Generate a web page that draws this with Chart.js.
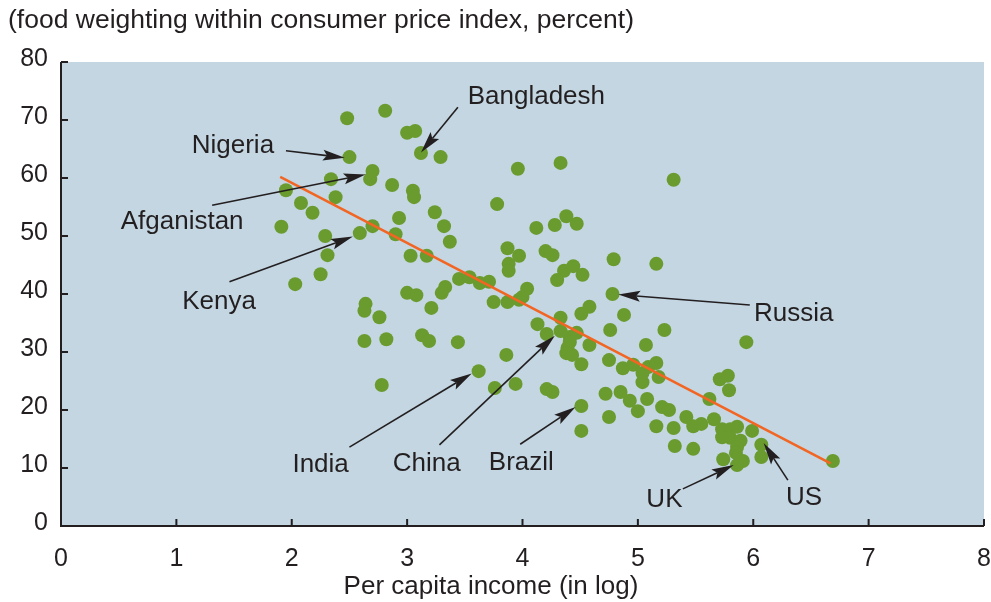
<!DOCTYPE html>
<html lang="en">
<head>
    <meta charset="UTF-8">
    <title>Food weighting vs per capita income</title>
    <style>
        html, body { margin: 0; padding: 0; background: #fff; }
        #wrap { width: 991px; height: 602px; }
    </style>
</head>
<body>
    <div id="wrap"><canvas id="foodChart" width="991" height="602"></canvas></div>

    <script src="https://cdn.jsdelivr.net/npm/chart.js"></script>
    <script>
        // per capita income (log) and food weight in CPI (%), one entry per country
        const incomeLog = [
            2.48, 2.81, 3.00, 3.07, 2.50, 3.12, 3.29, 3.78, 2.70, 2.68,
            2.34, 2.87, 3.05, 3.06, 1.95, 2.38, 2.08, 2.18, 1.91, 2.29,
            2.31, 2.25, 2.03, 2.59, 2.70, 2.93, 2.90, 3.24, 3.32, 3.37,
            3.03, 3.17, 3.45, 3.54, 3.63, 3.71, 3.33, 3.30, 3.00, 3.08,
            2.64, 2.63, 2.76, 3.21, 3.75, 3.87, 3.97, 4.00, 4.04, 2.63,
            2.82, 3.13, 3.19, 3.44, 3.86, 3.62, 3.76, 3.94, 2.78, 3.96,
            4.33, 5.31, 4.12, 4.28, 4.38, 4.47, 3.87, 3.97, 3.88, 3.88,
            4.20, 4.26, 4.44, 4.36, 4.30, 4.52, 4.79, 5.16, 4.78, 4.88,
            5.23, 4.76, 4.58, 4.51, 4.13, 4.33, 4.33, 4.21, 4.41, 4.47,
            4.41, 4.39, 4.38, 4.43, 4.58, 4.51, 5.07, 4.75, 4.87, 4.96,
            5.04, 5.09, 5.16, 5.04, 5.18, 4.21, 4.26, 4.51, 4.51, 4.72,
            4.85, 4.93, 5.00, 5.08, 4.75, 5.21, 5.27, 5.16, 5.31, 5.32,
            5.48, 5.42, 5.48, 5.94, 5.71, 5.78, 5.79, 5.62, 5.55, 5.66,
            5.73, 5.80, 5.86, 5.99, 5.73, 5.80, 5.89, 5.86, 5.85, 5.91,
            5.86, 5.74, 6.07, 6.07, 6.69
        ];
        const foodShare = [
            70.3, 71.6, 67.8, 68.1, 63.6, 64.3, 63.6, 55.5, 61.2, 59.8,
            59.8, 58.8, 57.8, 56.7, 57.9, 56.7, 55.7, 54.0, 51.6, 50.0,
            46.7, 43.4, 41.7, 50.5, 51.7, 53.1, 50.3, 54.1, 51.7, 49.0,
            46.6, 46.6, 42.6, 42.9, 41.9, 42.1, 41.2, 40.2, 40.2, 39.8,
            38.3, 37.1, 36.0, 37.6, 38.6, 38.6, 39.0, 39.5, 40.9, 31.9,
            32.2, 32.9, 31.9, 31.7, 29.5, 26.7, 23.8, 24.5, 24.3, 61.6,
            62.6, 59.7, 51.4, 51.9, 53.4, 52.1, 47.9, 46.6, 45.2, 44.0,
            47.4, 46.7, 44.8, 44.0, 42.4, 43.3, 46.0, 45.2, 40.0, 36.4,
            33.8, 33.8, 37.8, 36.6, 34.8, 35.9, 33.6, 33.1, 32.6, 33.3,
            31.7, 30.7, 29.8, 29.5, 31.2, 27.9, 31.2, 28.6, 27.2, 27.8,
            26.4, 27.4, 28.1, 24.8, 25.7, 23.6, 23.1, 20.7, 16.4, 22.8,
            23.1, 21.6, 19.8, 21.9, 18.8, 20.5, 20.0, 17.2, 16.9, 13.8,
            13.3, 18.8, 17.2, 31.7, 25.3, 25.9, 23.4, 21.9, 17.6, 18.4,
            16.7, 16.7, 17.1, 16.4, 15.3, 15.2, 14.7, 13.6, 12.6, 11.2,
            10.5, 11.5, 14.0, 11.9, 11.2
        ];

        // fitted line, two ends
        const trendX = [1.90, 6.67];
        const trendY = [60.2, 10.8];

        const xTicks = [0, 1, 2, 3, 4, 5, 6, 7, 8];
        const yTicks = [0, 10, 20, 30, 40, 50, 60, 70, 80];

        // country call-outs (text baseline centre, arrow start, arrow tip) in data units
        const calloutNames = ['Bangladesh', 'Nigeria', 'Afganistan', 'Kenya', 'Russia', 'India', 'China', 'Brazil', 'UK', 'US'];
        const calloutText = [[4.12, 72.8], [1.49, 64.3], [1.05, 51.2], [1.37, 37.5], [6.35, 35.4], [2.25, 9.3], [3.17, 9.5], [3.99, 9.7], [5.23, 3.3], [6.44, 3.7]];
        const arrowFrom = [[3.44, 72.2], [1.95, 64.7], [1.31, 55.3], [1.46, 42.1], [5.97, 38.1], [2.50, 13.6], [3.28, 14.0], [3.98, 14.1], [5.39, 6.4], [6.30, 7.9]];
        const arrowTo = [[3.12, 64.4], [2.46, 63.5], [2.64, 60.6], [2.53, 49.9], [4.83, 39.9], [3.56, 26.3], [4.28, 32.8], [4.46, 20.5], [5.83, 10.5], [6.09, 14.3]];

        const ink = '#231f20';
        const fontFam = '"Liberation Sans", Arial, sans-serif';

        function drawArrow(ctx, x1, y1, x2, y2) {
            const ang = Math.atan2(y2 - y1, x2 - x1);
            const len = 22, half = 5.5, notch = 4;
            const cos = Math.cos(ang), sin = Math.sin(ang);
            const bx = x2 - cos * len, by = y2 - sin * len;
            ctx.beginPath();
            ctx.moveTo(x1, y1);
            ctx.lineTo(bx + cos * notch, by + sin * notch);
            ctx.stroke();
            ctx.beginPath();
            ctx.moveTo(x2, y2);
            ctx.lineTo(bx - sin * half, by + cos * half);
            ctx.lineTo(bx + cos * notch, by + sin * notch);
            ctx.lineTo(bx + sin * half, by - cos * half);
            ctx.closePath();
            ctx.fill();
        }

        const decor = {
            id: 'decor',
            beforeDraw(chart) {
                const ctx = chart.ctx;
                ctx.save();
                ctx.fillStyle = '#fff';
                ctx.fillRect(0, 0, chart.width, chart.height);
                ctx.restore();
            },
            beforeDatasetsDraw(chart) {
                const a = chart.chartArea, ctx = chart.ctx;
                ctx.save();
                ctx.fillStyle = '#c3d6e2';
                ctx.fillRect(a.left, a.top, a.right - a.left, a.bottom - a.top);
                ctx.restore();
            },
            afterDatasetsDraw(chart) {
                const ctx = chart.ctx, a = chart.chartArea;
                const xs = chart.scales.x, ys = chart.scales.y;
                ctx.save();
                // axes with inward ticks
                ctx.strokeStyle = ink;
                ctx.lineWidth = 2;
                ctx.beginPath();
                ctx.moveTo(a.left, a.top);
                ctx.lineTo(a.left, a.bottom);
                ctx.lineTo(a.right, a.bottom);
                ctx.stroke();
                ctx.beginPath();
                xTicks.forEach(v => {
                    const px = xs.getPixelForValue(v);
                    ctx.moveTo(px, a.bottom);
                    ctx.lineTo(px, a.bottom - 7);
                });
                yTicks.forEach(v => {
                    const py = ys.getPixelForValue(v);
                    ctx.moveTo(a.left, py);
                    ctx.lineTo(a.left + 7, py);
                });
                ctx.stroke();

                // call-outs
                ctx.lineWidth = 1.6;
                ctx.fillStyle = ink;
                calloutNames.forEach((name, i) => {
                    drawArrow(ctx,
                        xs.getPixelForValue(arrowFrom[i][0]), ys.getPixelForValue(arrowFrom[i][1]),
                        xs.getPixelForValue(arrowTo[i][0]), ys.getPixelForValue(arrowTo[i][1]));
                });
                ctx.font = '26px ' + fontFam;
                ctx.textAlign = 'center';
                ctx.textBaseline = 'alphabetic';
                calloutNames.forEach((name, i) => {
                    ctx.fillText(name, xs.getPixelForValue(calloutText[i][0]), ys.getPixelForValue(calloutText[i][1]));
                });

                // titles
                ctx.textAlign = 'left';
                ctx.font = '26.5px ' + fontFam;
                ctx.fillText('(food weighting within consumer price index, percent)', 8, 28);
                ctx.textAlign = 'center';
                ctx.font = '26px ' + fontFam;
                ctx.fillText('Per capita income (in log)', 491, 594);
                ctx.restore();
            }
        };

        const scatterPoints = incomeLog.map((x, i) => ({ x: x, y: foodShare[i] }));
        const trendPoints = trendX.map((x, i) => ({ x: x, y: trendY[i] }));

        new Chart(document.getElementById('foodChart'), {
            type: 'scatter',
            data: {
                datasets: [
                    {
                        type: 'line',
                        data: trendPoints,
                        borderColor: '#f26522',
                        borderWidth: 2.5,
                        pointRadius: 0,
                        fill: false,
                        order: 0
                    },
                    {
                        data: scatterPoints,
                        backgroundColor: '#6a9b2e',
                        borderWidth: 0,
                        pointRadius: 7,
                        order: 1
                    }
                ]
            },
            options: {
                responsive: false,
                animation: false,
                devicePixelRatio: 1,
                layout: { padding: { left: 0, right: 6, top: 62, bottom: 0 } },
                plugins: {
                    legend: { display: false },
                    tooltip: { enabled: false }
                },
                scales: {
                    x: {
                        type: 'linear',
                        min: 0,
                        max: 8,
                        afterBuildTicks: s => { s.ticks = xTicks.map(v => ({ value: v })); },
                        afterFit: s => { s.height = 76; s.paddingLeft = 0; s.paddingRight = 0; },
                        grid: { display: false },
                        border: { display: false },
                        ticks: {
                            color: ink,
                            font: { family: fontFam, size: 25 },
                            padding: 10,
                            maxRotation: 0
                        }
                    },
                    y: {
                        type: 'linear',
                        min: 0,
                        max: 80,
                        afterBuildTicks: s => { s.ticks = yTicks.map(v => ({ value: v })); },
                        afterFit: s => { s.width = 61; s.paddingTop = 0; s.paddingBottom = 0; },
                        grid: { display: false },
                        border: { display: false },
                        ticks: {
                            color: ink,
                            font: { family: fontFam, size: 25 },
                            padding: 5,
                            labelOffset: -3
                        }
                    }
                }
            },
            plugins: [decor]
        });
    </script>
</body>
</html>
